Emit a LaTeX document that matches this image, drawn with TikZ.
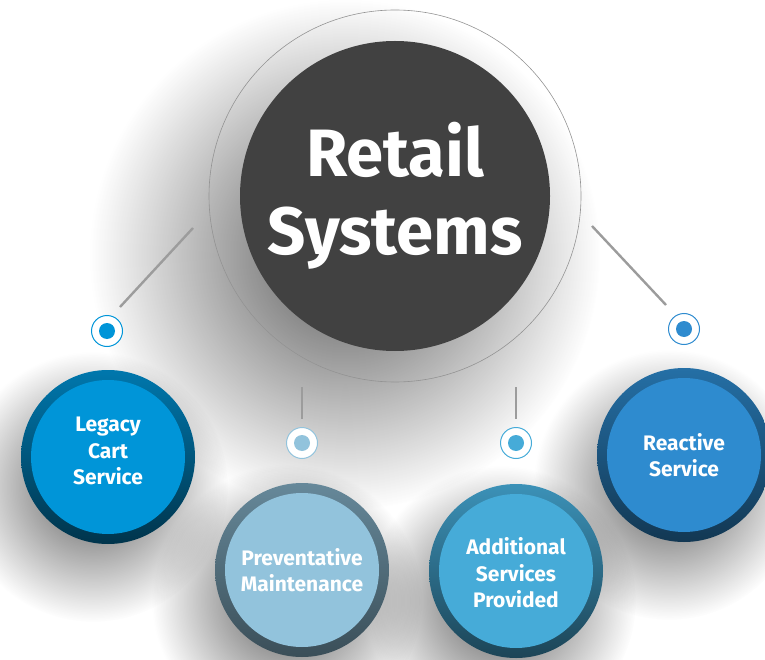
\documentclass[tikz,border=0pt]{standalone}
\usepackage{fontspec}
\setmainfont{Fira Sans}
\usepackage{tikz}
\usetikzlibrary{fadings}
\usepackage{xcolor}

\definecolor{hubgray}{HTML}{414141}
\definecolor{stemgray}{HTML}{9C9C9C}
\definecolor{legacyblue}{HTML}{0095D8}
\definecolor{prevblue}{HTML}{92C3DC}
\definecolor{addblue}{HTML}{46ABD8}
\definecolor{reactblue}{HTML}{2E8BCF}

\tikzfading[name=softfade, inner color=transparent!0, outer color=transparent!100]

\tikzset{
  stem/.style={stemgray, line width=2.4pt},
  dropshade/.style={fill=black, fill opacity=#1, path fading=softfade},
  ring/.style={circle, minimum size=174pt, inner sep=0pt, shading angle=-45},
  disc/.style={circle, minimum size=154pt, inner sep=0pt, fill=#1},
  caption/.style={text=white, align=center, font=\fontsize{21}{26.5}\selectfont\bfseries},
  halo/.style={circle, minimum size=31pt, inner sep=0pt, draw=#1, line width=1pt, fill=white},
  dot/.style={circle, minimum size=16pt, inner sep=0pt, fill=#1},
}

\begin{document}
\begin{tikzpicture}[x=1pt,y=-1pt]
  \useasboundingbox (0,0) rectangle (765,660);
  % soft shadows
  \fill[dropshade=0.65] (345,255) circle (255);
  \foreach \x/\y in {108/457, 302/570, 516/571, 684/455}
    \fill[dropshade=0.65] (\x-15,\y+30) circle (135);

  % hub
  \node[circle, fill=hubgray, minimum size=310pt, inner sep=0pt, text=white, align=center,
        font=\fontsize{67}{78}\selectfont\bfseries] (hub) at (395,196) {Retail\\Systems};
  \draw[gray!85, line width=0.6pt] (hub.center) circle (186);

  % stems
  \coordinate (stemLa) at (193,228); \coordinate (stemLb) at (120,307);
  \coordinate (stemRa) at (592,226); \coordinate (stemRb) at (666,305);
  \coordinate (stemPa) at (302,387); \coordinate (stemPb) at (302,419);
  \coordinate (stemAa) at (516,387); \coordinate (stemAb) at (516,419);
  \draw[stem] (stemLa) -- (stemLb);
  \draw[stem] (stemRa) -- (stemRb);
  \draw[stem] (stemPa) -- (stemPb);
  \draw[stem] (stemAa) -- (stemAb);

  % markers
  \node[halo=legacyblue] (mLeg) at (107,331) {};
  \node[dot=legacyblue] (dLeg) at (mLeg) {};
  \node[halo=prevblue] (mPrev) at (302,443) {};
  \node[dot=prevblue] (dPrev) at (mPrev) {};
  \node[halo=addblue] (mAdd) at (516,443) {};
  \node[dot=addblue] (dAdd) at (mAdd) {};
  \node[halo=reactblue] (mReact) at (684,329) {};
  \node[dot=reactblue] (dReact) at (mReact) {};

  % bubbles
  \node[ring, top color=legacyblue!80!black, bottom color=legacyblue!35!black] (rLeg) at (108,457) {};
  \node[disc=legacyblue] (leg) at (rLeg) {};
  \node[caption] (tLeg) at ([yshift=6pt]leg.center) {Legacy\\Cart\\Service};

  \node[ring, top color=prevblue!70!black, bottom color=prevblue!40!black] (rPrev) at (302,570) {};
  \node[disc=prevblue] (prev) at (rPrev) {};
  \node[caption] (tPrev) at (prev) {Preventative\\Maintenance};

  \node[ring, top color=addblue!85!black, bottom color=addblue!40!black] (rAdd) at (516,571) {};
  \node[disc=addblue] (add) at (rAdd) {};
  \node[caption] (tAdd) at ([yshift=-2pt]add.center) {Additional\\Services\\Provided};

  \node[ring, top color=reactblue!80!black, bottom color=reactblue!40!black] (rReact) at (684,455) {};
  \node[disc=reactblue] (react) at (rReact) {};
  \node[caption] (tReact) at (react) {Reactive\\Service};
\end{tikzpicture}
\end{document}
